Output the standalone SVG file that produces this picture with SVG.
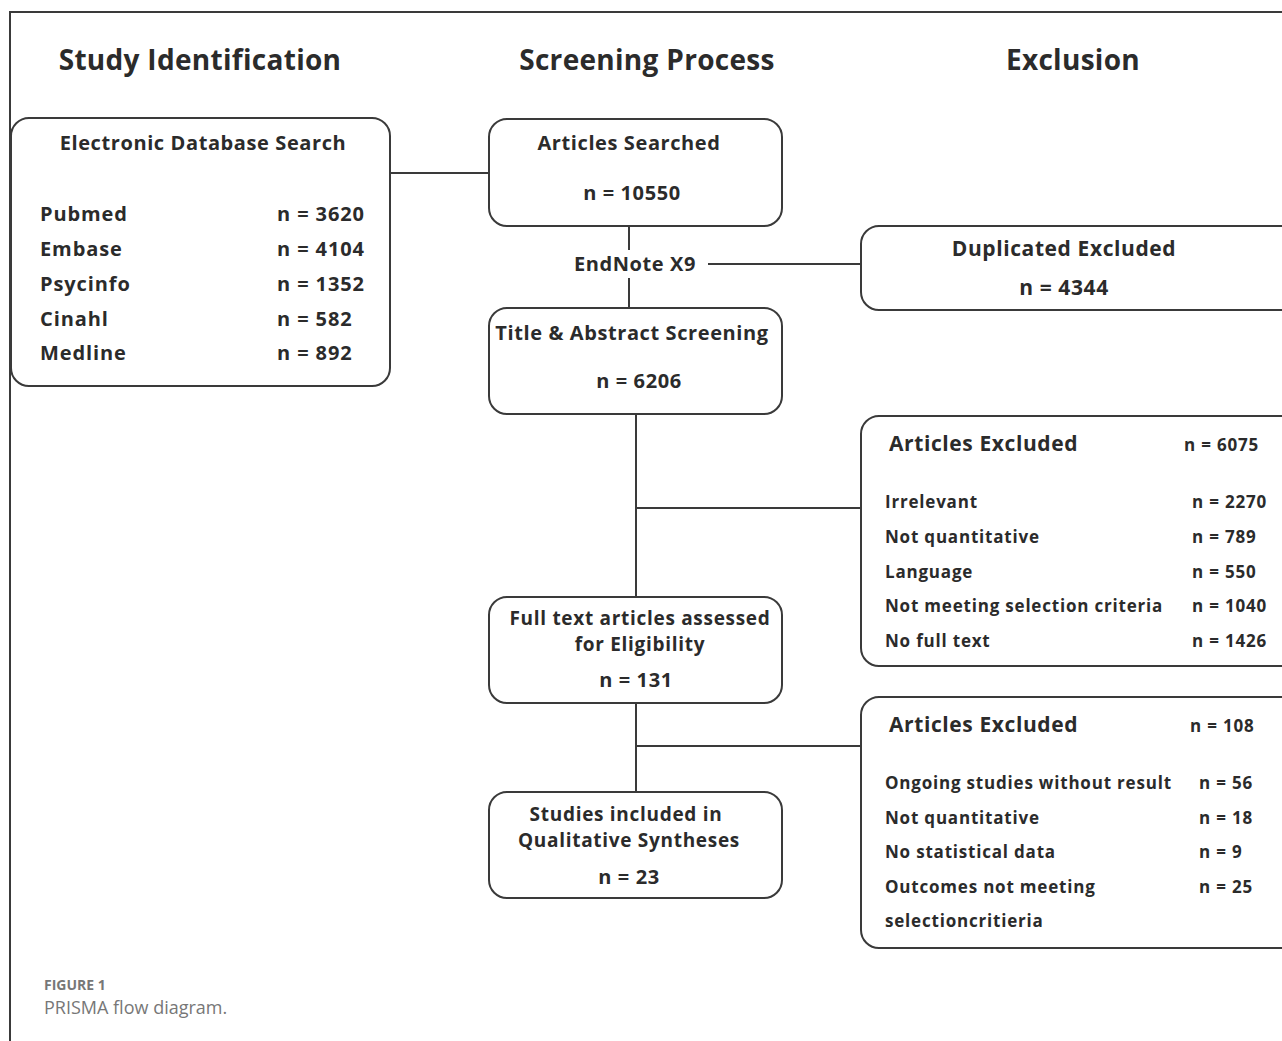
<svg xmlns="http://www.w3.org/2000/svg" width="1282" height="1041" viewBox="0 0 1282 1041">
<style>
.box{fill:#fff;stroke:#3a3a3a;stroke-width:2}
.ln{stroke:#3a3a3a;stroke-width:2;fill:none}
text{font-family:"Open Sans","Liberation Sans",sans-serif;font-weight:700;fill:#2b2b2b}
.h{font-size:28px;letter-spacing:0.3px}
.t{font-size:20px;letter-spacing:0.6px}
.t2{font-size:19px;letter-spacing:0.7px}
.ti{font-size:21px;letter-spacing:0.6px}
.d{font-size:20px;letter-spacing:0.9px}
.s{font-size:17px;letter-spacing:0.8px}
.m{text-anchor:middle}
.cap1{font-size:14px;fill:#777;font-weight:700}
.cap2{font-size:18px;fill:#777;font-weight:400}
</style>
<rect width="1282" height="1041" fill="#fff"/>
<path class="ln" d="M10,1041 V12 H1282" stroke-width="1.5"/>
<g id="headings">
<text class="h m" x="200" y="70">Study Identification</text>
<text class="h m" x="647" y="70">Screening Process</text>
<text class="h m" x="1073" y="70">Exclusion</text>
</g>
<g id="connectors">
<path class="ln" d="M390,173 H489"/>
<path class="ln" d="M629,226 V250"/>
<path class="ln" d="M629,278 V308"/>
<path class="ln" d="M708,264 H861"/>
<path class="ln" d="M636,414 V597"/>
<path class="ln" d="M636,508 H861"/>
<path class="ln" d="M636,703 V792"/>
<path class="ln" d="M636,746 H861"/>
<text class="t m" x="635" y="271">EndNote X9</text>
</g>
<g id="database">
<rect class="box" x="11" y="118" width="379" height="268" rx="18"/>
<text class="t m" x="203" y="150">Electronic Database Search</text>
<text class="d" x="40" y="221">Pubmed</text><text class="d" x="277" y="221">n = 3620</text>
<text class="d" x="40" y="256">Embase</text><text class="d" x="277" y="256">n = 4104</text>
<text class="d" x="40" y="291">Psycinfo</text><text class="d" x="277" y="291">n = 1352</text>
<text class="d" x="40" y="326">Cinahl</text><text class="d" x="277" y="326">n = 582</text>
<text class="d" x="40" y="360">Medline</text><text class="d" x="277" y="360">n = 892</text>
</g>
<g id="searched">
<rect class="box" x="489" y="119" width="293" height="107" rx="18"/>
<text class="t m" x="629" y="150">Articles Searched</text>
<text class="t m" x="632" y="200">n = 10550</text>
</g>
<g id="duplicates">
<rect class="box" x="861" y="226" width="440" height="84" rx="18"/>
<text class="ti m" x="1064" y="256">Duplicated Excluded</text>
<text class="ti m" x="1064" y="295">n = 4344</text>
</g>
<g id="title-abstract">
<rect class="box" x="489" y="308" width="293" height="106" rx="18"/>
<text class="t m" x="632" y="340">Title &amp; Abstract Screening</text>
<text class="t m" x="639" y="388">n = 6206</text>
</g>
<g id="excluded1">
<rect class="box" x="861" y="416" width="440" height="250" rx="18"/>
<text class="ti" x="889" y="451">Articles Excluded</text>
<text class="s" x="1184" y="451">n = 6075</text>
<text class="s" x="885" y="508">Irrelevant</text><text class="s" x="1192" y="508">n = 2270</text>
<text class="s" x="885" y="543">Not quantitative</text><text class="s" x="1192" y="543">n = 789</text>
<text class="s" x="885" y="578">Language</text><text class="s" x="1192" y="578">n = 550</text>
<text class="s" x="885" y="612">Not meeting selection criteria</text><text class="s" x="1192" y="612">n = 1040</text>
<text class="s" x="885" y="647">No full text</text><text class="s" x="1192" y="647">n = 1426</text>
</g>
<g id="fulltext">
<rect class="box" x="489" y="597" width="293" height="106" rx="18"/>
<text class="t2 m" x="640" y="625">Full text articles assessed</text>
<text class="t2 m" x="640" y="651">for Eligibility</text>
<text class="t m" x="636" y="687">n = 131</text>
</g>
<g id="excluded2">
<rect class="box" x="861" y="697" width="440" height="251" rx="18"/>
<text class="ti" x="889" y="732">Articles Excluded</text>
<text class="s" x="1190" y="732">n = 108</text>
<text class="s" x="885" y="789">Ongoing studies without result</text><text class="s" x="1199" y="789">n = 56</text>
<text class="s" x="885" y="824">Not quantitative</text><text class="s" x="1199" y="824">n = 18</text>
<text class="s" x="885" y="858">No statistical data</text><text class="s" x="1199" y="858">n = 9</text>
<text class="s" x="885" y="893">Outcomes not meeting</text><text class="s" x="1199" y="893">n = 25</text>
<text class="s" x="885" y="927">selectioncritieria</text>
</g>
<g id="included">
<rect class="box" x="489" y="792" width="293" height="106" rx="18"/>
<text class="t2 m" x="626" y="821">Studies included in</text>
<text class="t2 m" x="629" y="847">Qualitative Syntheses</text>
<text class="t m" x="629" y="884">n = 23</text>
</g>
<g id="caption">
<text class="cap1" x="44" y="990">FIGURE 1</text>
<text class="cap2" x="44" y="1014">PRISMA flow diagram.</text>
</g>
</svg>
